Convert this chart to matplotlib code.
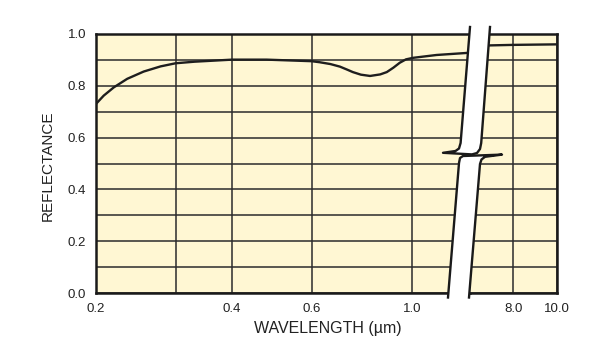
import matplotlib
matplotlib.use("Agg")
import matplotlib.pyplot as plt
from matplotlib.ticker import NullLocator, NullFormatter
from matplotlib.patches import Polygon
from matplotlib.lines import Line2D

plt.rcParams['font.family'] = ['Liberation Sans', 'DejaVu Sans']

# ---- data ----
wl_left = [0.200, 0.208, 0.219, 0.2345, 0.255, 0.278, 0.300, 0.330, 0.400, 0.477,
           0.600, 0.625, 0.660, 0.693, 0.720, 0.740, 0.771, 0.808, 0.851, 0.880,
           0.910, 0.940, 0.970, 1.006, 1.134, 1.326, 1.341]
refl_left = [0.730, 0.762, 0.794, 0.827, 0.855, 0.875, 0.887, 0.893, 0.901, 0.901,
             0.895, 0.891, 0.884, 0.874, 0.862, 0.853, 0.843, 0.838, 0.844, 0.853,
             0.870, 0.889, 0.902, 0.908, 0.919, 0.927, 0.928]
wl_right = [6.40, 7.10, 8.00, 10.00]
refl_right = [0.955, 0.956, 0.958, 0.960]

left_ticks = [0.2, 0.3, 0.4, 0.6, 1.0]
left_tick_labels = ['0.2', '', '0.4', '0.6', '1.0']
right_ticks = [8.0, 10.0]
right_tick_labels = ['8.0', '10.0']
y_grid = [0.0, 0.1, 0.2, 0.3, 0.4, 0.5, 0.6, 0.7, 0.8, 0.9, 1.0]
y_labels = ['0.0', '', '0.2', '', '0.4', '', '0.6', '', '0.8', '', '1.0']

W, H = 600, 359
fig = plt.figure(figsize=(W / 100, H / 100), dpi=100)

def fx(px):
    return px / W

def fy(py):
    return 1 - py / H

bg = '#FFF7D3'
gridc = '#2b2b2b'
split = 469.5
ax_top, ax_bot = 34, 293
axL = fig.add_axes([fx(96), fy(ax_bot), fx(split) - fx(96), fy(ax_top) - fy(ax_bot)])
axR = fig.add_axes([fx(split), fy(ax_bot), fx(557) - fx(split), fy(ax_top) - fy(ax_bot)])

for ax in (axL, axR):
    ax.set_facecolor(bg)
    ax.set_xscale('log')
    ax.set_ylim(0, 1)
    ax.xaxis.set_minor_locator(NullLocator())
    ax.xaxis.set_minor_formatter(NullFormatter())
    ax.set_yticks(y_grid)
    ax.grid(True, color=gridc, lw=1.1)
    ax.set_axisbelow(True)
    ax.tick_params(length=0, labelsize=9.5, colors='#222222')
    for s in ax.spines.values():
        s.set_linewidth(1.8)
        s.set_color('#1a1a1a')

axL.set_xlim(0.2, 1.341)
axL.set_xticks(left_ticks)
axL.set_xticklabels(left_tick_labels)
axL.set_yticklabels(y_labels)
axL.tick_params(axis='y', pad=7)
axL.tick_params(axis='x', pad=7)
axL.spines['right'].set_visible(False)
axL.plot(wl_left, refl_left, color='#1e1e1e', lw=1.7, solid_capstyle='round',
         solid_joinstyle='round', zorder=3)

axR.set_xlim(6.40, 10.0)
axR.set_xticks(right_ticks)
axR.set_xticklabels(right_tick_labels)
axR.set_yticklabels([])
axR.tick_params(axis='x', pad=7)
axR.spines['left'].set_visible(False)
axR.plot(wl_right, refl_right, color='#1e1e1e', lw=1.7, zorder=3)

# ---- axis break band ----
upper = [(470, 27), (460.6, 143), (459, 148.5), (455.5, 151), (443, 152.8),
         (472, 154.4), (477, 153), (480, 149), (481.2, 143), (490, 27)]
lower = [(448, 297.5), (459, 163), (460, 158), (463, 156), (502, 154.6),
         (485, 156.8), (481.5, 159.5), (480, 164), (469, 297.5)]
for pts in (upper, lower):
    poly = Polygon([(fx(x), fy(y)) for x, y in pts], closed=True,
                   transform=fig.transFigure, facecolor='white', edgecolor='none',
                   zorder=10)
    fig.add_artist(poly)
    ln = Line2D([fx(x) for x, y in pts], [fy(y) for x, y in pts],
                transform=fig.transFigure, color='#1a1a1a', lw=1.7,
                solid_joinstyle='round', zorder=11)
    fig.add_artist(ln)

fig.text(fx(48), fy(166), 'REFLECTANCE', rotation=90, ha='center', va='center',
         fontsize=11, color='#222222')
fig.text(fx(328), fy(328), 'WAVELENGTH (µm)', ha='center', va='center',
         fontsize=11.5, color='#222222')

fig.savefig('out.png', dpi=100, facecolor='white')
